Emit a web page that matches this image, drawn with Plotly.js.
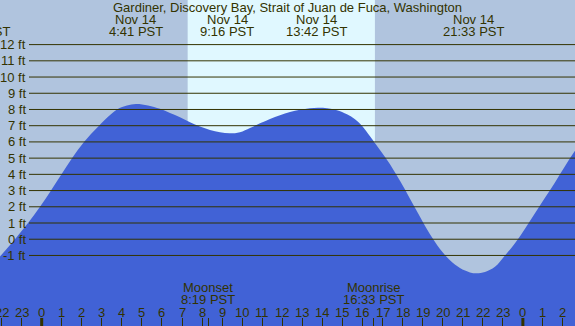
<!DOCTYPE html>
<html><head><meta charset="utf-8">
<script src="https://cdn.plot.ly/plotly-3.0.1.min.js"></script>
<style>html,body{margin:0;padding:0;overflow:hidden;background:#B0C4DE}</style>
</head><body><div id="chart" style="width:575px;height:326px"></div>
<script>
// ---- data ----
const chartTitle = "Gardiner, Discovery Bay, Strait of Juan de Fuca, Washington";
// hours relative to midnight Nov 14 (PST), tide height in feet
const tideHours = [-2.33,-2.08,-1.332,-0.683,-0.085,0.464,0.988,1.511,2.11,2.858,3.756,4.254,4.703,5.302,5.9,6.399,6.898,7.397,7.895,8.394,8.893,9.392,9.89,10.389,10.888,11.387,11.885,12.384,12.883,13.382,13.781,14.23,14.729,15.227,15.626,15.975,16.374,16.873,17.372,17.87,18.369,18.868,19.367,19.865,20.364,20.863,21.362,21.696,22.11,22.608,23.107,23.606,24.105,24.603,25.102,25.601,26.1,26.599,27.097];
const tideFeet  = [-1.42,-1.07,0.0,1.0,2.0,3.0,4.0,5.0,6.0,7.0,8.0,8.25,8.34,8.25,8.04,7.78,7.52,7.22,6.95,6.74,6.59,6.53,6.6,6.86,7.15,7.42,7.65,7.84,7.98,8.07,8.11,8.08,7.95,7.7,7.4,7.0,6.35,5.5,4.62,3.6,2.5,1.38,0.3,-0.6,-1.3,-1.78,-2.05,-2.1,-2.02,-1.7,-1.0,-0.25,0.65,1.6,2.55,3.5,4.5,5.45,6.3];
const extremeHours = [-3.11, 4.683, 9.267, 13.7, 21.55];
const extremeDates = ["Nov 13", "Nov 14", "Nov 14", "Nov 14", "Nov 14"];
const extremeTimes = ["20:53 PST", "4:41 PST", "9:16 PST", "13:42 PST", "21:33 PST"];
const sunriseHour = 7.28, sunsetHour = 16.62;
const moonHours = [8.317, 16.55];
const moonNames = ["Moonset", "Moonrise"];
const moonTimes = ["8:19 PST", "16:33 PST"];
const hourTicks = [-2,-1,0,1,2,3,4,5,6,7,8,9,10,11,12,13,14,15,16,17,18,19,20,21,22,23,24,25,26];
const hourLabels = hourTicks.map(h => String(((h % 24) + 24) % 24));
const midnightTicks = [0, 24];
const feetTicks = [-1,0,1,2,3,4,5,6,7,8,9,10,11,12];
const feetLabels = feetTicks.map(v => v + " ft");

// ---- styling ----
const X0 = -2.08, X1 = 26.6, Y0 = -5.35, Y1 = 14.75;
const W = 575, H = 326;
const txt = "#333300";
const fnt = {family: "Liberation Sans, Arial, sans-serif", size: 13, color: txt};
const nightBg = "#B0C4DE", dayBg = "#E0F8FF", water = "#4162D6";
const toPaperX = h => (h - X0) / (X1 - X0);
const pyY = px => 1 - px / H;

const traces = [
  {x: [tideHours[0], tideHours[tideHours.length-1]], y: [Y0 - 1, Y0 - 1], mode: "lines",
   line: {width: 0, color: water}, hoverinfo: "skip", showlegend: false},
  {x: tideHours, y: tideFeet, mode: "lines", fill: "tonexty", fillcolor: water,
   line: {shape: "spline", smoothing: 1, width: 0, color: water}, hoverinfo: "skip", showlegend: false}
];

const shapes = [
  {type: "rect", layer: "below", xref: "x", yref: "paper", x0: sunriseHour, x1: sunsetHour, y0: 0, y1: 1,
   fillcolor: dayBg, line: {width: 0}}
];
feetTicks.forEach(v => shapes.push({type: "line", xref: "paper", yref: "y", x0: 29 / W, x1: 1, y0: v, y1: v,
   line: {color: txt, width: 1}}));
midnightTicks.forEach(h => shapes.push({type: "line", xref: "x", yref: "paper", x0: h, x1: h, y0: 0, y1: 8 / H,
   line: {color: txt, width: 3}}));

const annotations = [];
annotations.push({text: chartTitle, xref: "paper", yref: "paper", x: 0.5, y: pyY(7.5), xanchor: "center", yanchor: "middle",
  showarrow: false, font: fnt, borderpad: 0});
extremeHours.forEach((h, i) => {
  annotations.push({text: extremeDates[i], xref: "paper", yref: "paper", x: toPaperX(h), y: pyY(19), xanchor: "center", yanchor: "middle", showarrow: false, font: fnt, borderpad: 0});
  annotations.push({text: extremeTimes[i], xref: "paper", yref: "paper", x: toPaperX(h), y: pyY(31.5), xanchor: "center", yanchor: "middle", showarrow: false, font: fnt, borderpad: 0});
});
moonHours.forEach((h, i) => {
  annotations.push({text: moonNames[i], xref: "x", yref: "paper", x: h, y: pyY(287.5), xanchor: "center", yanchor: "middle", showarrow: false, font: fnt, borderpad: 0});
  annotations.push({text: moonTimes[i], xref: "x", yref: "paper", x: h, y: pyY(299), xanchor: "center", yanchor: "middle", showarrow: false, font: fnt, borderpad: 0});
});
feetTicks.forEach((v, i) => annotations.push({text: feetLabels[i], xref: "paper", yref: "y", x: 27 / W, y: v,
  xanchor: "right", yanchor: "middle", showarrow: false, font: fnt, borderpad: 0}));
hourTicks.forEach((h, i) => annotations.push({text: hourLabels[i], xref: "x", yref: "paper", x: h, y: pyY(312),
  xanchor: "center", yanchor: "middle", showarrow: false, font: fnt, borderpad: 0}));

const layout = {
  width: W, height: H, margin: {l: 0, r: 0, t: 0, b: 0, pad: 0},
  paper_bgcolor: nightBg, plot_bgcolor: nightBg, showlegend: false,
  xaxis: {range: [X0, X1], showgrid: false, zeroline: false, showline: false,
          tickmode: "array", tickvals: hourTicks.concat(moonHours), ticks: "inside", ticklen: 8, tickwidth: 1,
          tickcolor: txt, showticklabels: false, fixedrange: true},
  yaxis: {range: [Y0, Y1], showgrid: false, zeroline: false, showline: false, showticklabels: false, ticks: "", fixedrange: true},
  shapes: shapes, annotations: annotations
};
Plotly.newPlot("chart", traces, layout, {staticPlot: true, displayModeBar: false});
</script></body></html>
